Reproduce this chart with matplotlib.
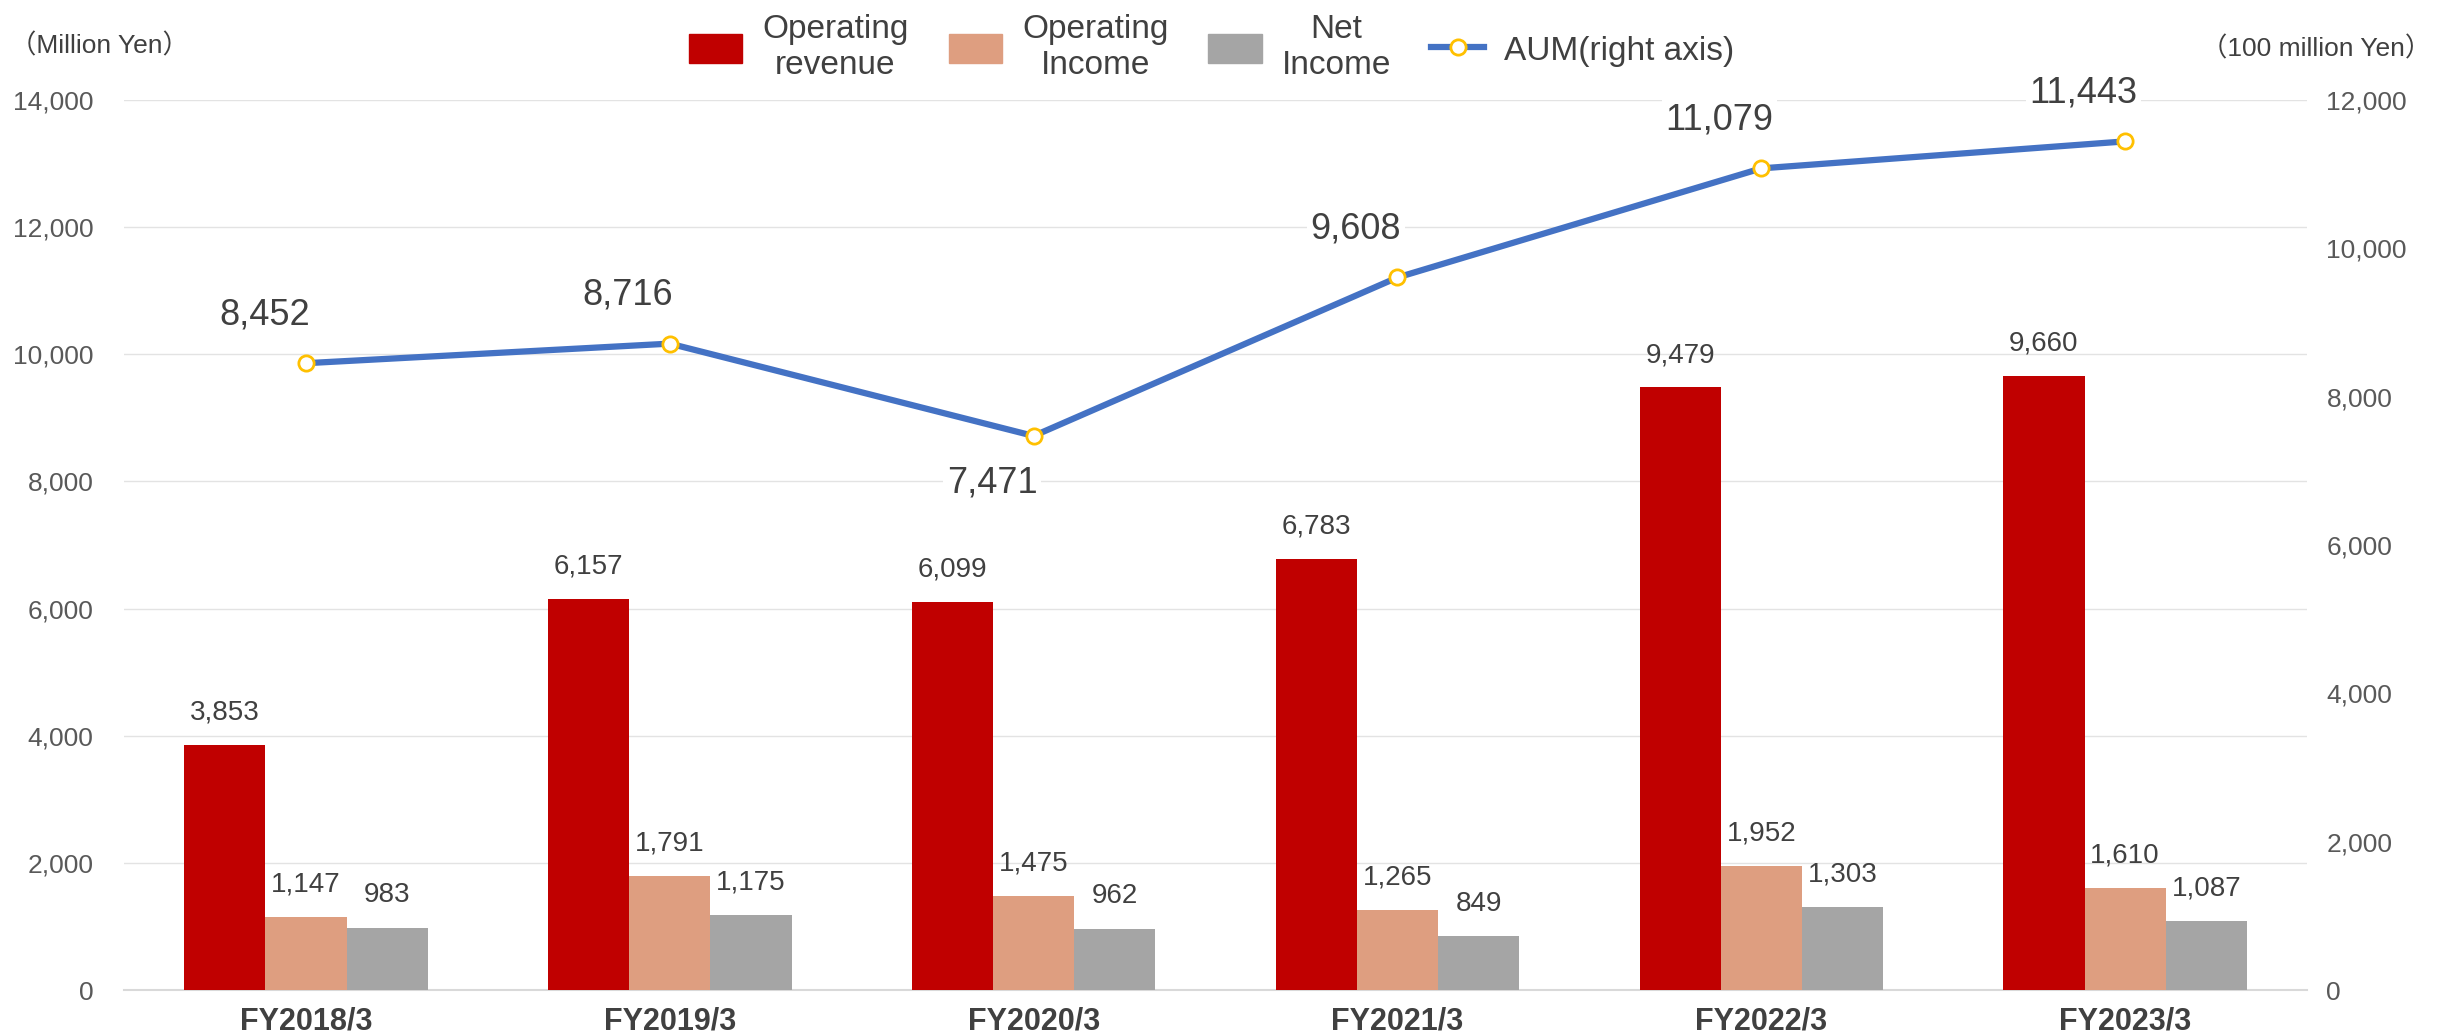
import numpy as np
import matplotlib.pyplot as plt
from matplotlib.lines import Line2D
from matplotlib.patches import Patch

years = ['FY2018/3', 'FY2019/3', 'FY2020/3', 'FY2021/3', 'FY2022/3', 'FY2023/3']
op_revenue = [3853, 6157, 6099, 6783, 9479, 9660]
op_income = [1147, 1791, 1475, 1265, 1952, 1610]
net_income = [983, 1175, 962, 849, 1303, 1087]
aum = [8452, 8716, 7471, 9608, 11079, 11443]

FONT = ['Liberation Sans', 'Noto Sans CJK JP']
plt.rcParams['font.family'] = FONT
txt = '#404040'
tick_c = '#595959'

fig = plt.figure(figsize=(24.48, 10.36), dpi=100)
ax = fig.add_axes([0.0507, 0.0444, 0.8917, 0.859])
ax2 = ax.twinx()

x = np.arange(len(years))
w = 0.223
bars_rev = ax.bar(x - w, op_revenue, w, color='#C00000', zorder=3)
bars_inc = ax.bar(x, op_income, w, color='#DE9E80', zorder=3)
bars_net = ax.bar(x + w, net_income, w, color='#A5A5A5', zorder=3)

for bars, vals in [(bars_rev, op_revenue), (bars_inc, op_income), (bars_net, net_income)]:
    for b, v in zip(bars, vals):
        ax.annotate(f'{v:,}', (b.get_x() + b.get_width() / 2, v), xytext=(0, 14),
                    textcoords='offset points', ha='center', va='bottom',
                    fontsize=20, color=txt)

ax.set_xlim(-0.5, 5.5)
ax.set_ylim(0, 14000)
ax.set_yticks(range(0, 14001, 2000))
ax.set_yticklabels([f'{v:,}' for v in range(0, 14001, 2000)])
ax.yaxis.grid(True, color='#e3e3e3', lw=1.0, zorder=0)
ax.set_axisbelow(True)
ax.set_xticks(x)
ax.set_xticklabels(years, fontweight='bold', fontsize=22, color=txt)
ax.tick_params(axis='y', length=0, labelsize=19, labelcolor=tick_c, pad=22)
ax.tick_params(axis='x', length=0, pad=12)
for s in ['top', 'left', 'right']:
    ax.spines[s].set_visible(False)
ax.spines['bottom'].set_color('#d9d9d9')
ax.spines['bottom'].set_linewidth(1.5)

ax2.plot(x, aum, color='#4472C4', lw=4.5, marker='o', markersize=11,
         markerfacecolor='white', markeredgecolor='#FFC000', markeredgewidth=2, zorder=4)
ax2.set_ylim(0, 12000)
ax2.set_yticks(range(0, 12001, 2000))
ax2.set_yticklabels([f'{v:,}' for v in range(0, 12001, 2000)])
ax2.tick_params(axis='y', length=0, labelsize=19, labelcolor=tick_c, pad=14)
for s in ['top', 'left', 'right', 'bottom']:
    ax2.spines[s].set_visible(False)

# AUM labels: above the marker, except FY2020/3 below
for i, v in enumerate(aum):
    dy = -34 if i == 2 else 35
    ax2.annotate(f'{v:,}', (x[i], v), xytext=(-30, dy), textcoords='offset points',
                 ha='center', va='center', fontsize=26, color=txt,
                 bbox=dict(boxstyle='square,pad=0.1', fc='white', ec='none'))

fig.text(0.004, 0.956, '（Million Yen）', fontsize=19, color=txt, va='center', ha='left')
fig.text(0.993, 0.953, '（100 million Yen）', fontsize=19, color=txt, va='center', ha='right')

handles = [Patch(color='#C00000'), Patch(color='#DE9E80'), Patch(color='#A5A5A5'),
           Line2D([], [], color='#4472C4', lw=4.5, marker='o', markersize=11,
                  markerfacecolor='white', markeredgecolor='#FFC000', markeredgewidth=2)]
labels = ['Operating\nrevenue', 'Operating\nIncome', 'Net\nIncome', 'AUM(right axis)']
leg = fig.legend(handles, labels, loc='upper center', bbox_to_anchor=(0.495, 1.015),
                 ncol=4, frameon=False, fontsize=24, handlelength=1.6, handleheight=1.0,
                 columnspacing=1.2, handletextpad=0.6, labelcolor=txt)
for t in leg.get_texts():
    t.set_multialignment('center')

fig.savefig('out.png', dpi=100)
